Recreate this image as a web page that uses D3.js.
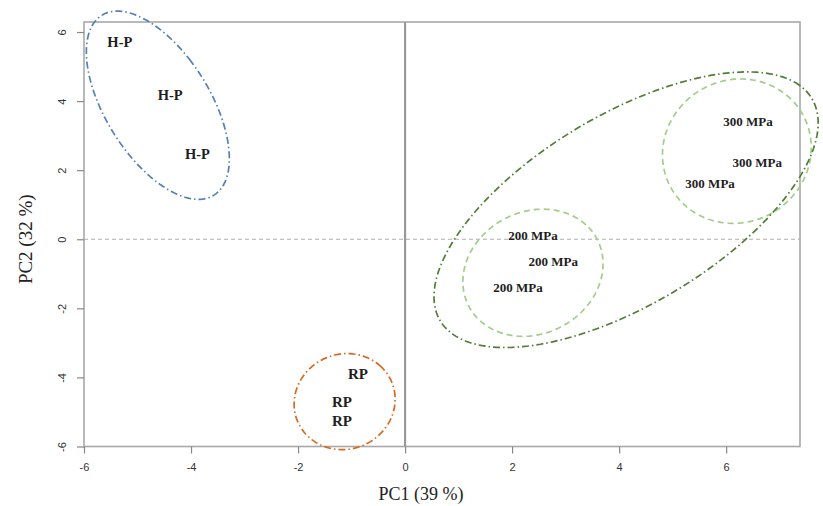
<!DOCTYPE html>
<html>
<head>
<meta charset="utf-8">
<script src="https://cdn.jsdelivr.net/npm/d3@7"></script>
<style>
  body { margin: 0; background: #fff; }
  svg { display: block; }
</style>
</head>
<body>
<svg id="chart"></svg>
<script>
// PCA scores (PC1, PC2)
const labels = ["H-P", "H-P", "H-P", "RP", "RP", "RP",
  "200 MPa", "200 MPa", "200 MPa", "300 MPa", "300 MPa", "300 MPa"];
const pc1 = [-5.33, -4.39, -3.88, -0.88, -1.18, -1.18, 2.39, 2.77, 2.11, 6.41, 6.58, 5.70];
const pc2 = [5.71, 4.17, 2.46, -3.91, -4.70, -5.25, 0.12, -0.64, -1.39, 3.42, 2.23, 1.62];
const labelSize = [14.5, 14.5, 14.5, 15, 15, 15, 13, 13, 13, 13, 13, 13];

// group ellipses: centre, half-width, half-height (data units), correlation
const ellipseNames = ["H-P", "RP", "200 MPa", "300 MPa", "HHP"];
const ellipseCx = [-4.62, -1.13, 2.39, 6.20, 4.13];
const ellipseCy = [3.88, -4.70, -0.97, 2.55, 0.855];
const ellipseRx = [1.336, 0.944, 1.31, 1.39, 3.59];
const ellipseRy = [2.725, 1.39, 1.84, 2.09, 3.99];
const ellipseRho = [-0.567, 0.05, 0.14, 0.05, 0.63];
const ellipseColor = ["#5580b5", "#d9691f", "#9fcf8a", "#9fcf8a", "#4f7f35"];
const ellipseDash = ["7,3,1.5,3", "7,3,1.5,3", "6,4", "6,4", "7,3,1.5,3"];

const xTicks = [-6, -4, -2, 0, 2, 4, 6];
const yTicks = [-6, -4, -2, 0, 2, 4, 6];

const width = 823, height = 506;
const margin = { top: 22, right: 23, bottom: 60, left: 84 };

const svg = d3.select("#chart")
  .attr("width", width)
  .attr("height", height);

const x = d3.scaleLinear()
  .domain([-6, 7.38])
  .range([margin.left, width - margin.right]);

const y = d3.scaleLinear()
  .domain([-6, 6.29])
  .range([height - margin.bottom + 0.5, margin.top]);

// plot frame
svg.append("rect")
  .attr("x", x(-6)).attr("y", y(6.29))
  .attr("width", x(7.38) - x(-6)).attr("height", y(-6) - y(6.29))
  .attr("fill", "none")
  .attr("stroke", "#a8a8a8")
  .attr("stroke-width", 1.6);

// reference lines
svg.append("line")
  .attr("x1", x(-6)).attr("x2", x(7.38))
  .attr("y1", y(0)).attr("y2", y(0))
  .attr("stroke", "#b0b0b0")
  .attr("stroke-width", 1.2)
  .attr("stroke-dasharray", "4,3");

svg.append("line")
  .attr("x1", x(0)).attr("x2", x(0))
  .attr("y1", y(6.29)).attr("y2", y(-6))
  .attr("stroke", "#999")
  .attr("stroke-width", 2.2);

// axes
const xAxis = svg.append("g")
  .attr("transform", `translate(0,${y(-6)})`)
  .call(d3.axisBottom(x).tickValues(xTicks).tickSize(7).tickPadding(10).tickFormat(d => String(d)));

const yAxis = svg.append("g")
  .attr("transform", `translate(${x(-6)},0)`)
  .call(d3.axisLeft(y).tickValues(yTicks).tickSize(7).tickPadding(0).tickFormat(d => String(d)));

[xAxis, yAxis].forEach(g => {
  g.select(".domain").remove();
  g.selectAll(".tick line").attr("stroke", "#888").attr("stroke-width", 1.2);
  g.selectAll(".tick text")
    .attr("fill", "#333")
    .style("font-family", "Liberation Sans, Arial, sans-serif")
    .style("font-size", "11px");
});

// R style: y tick labels parallel to the axis
yAxis.selectAll(".tick text")
  .attr("x", -21)
  .attr("dy", 0)
  .attr("text-anchor", "middle")
  .attr("dominant-baseline", "middle")
  .attr("transform", "rotate(-90,-21,0)");

// axis titles
svg.append("text")
  .attr("x", x(0) + 16)
  .attr("y", 500)
  .attr("text-anchor", "middle")
  .style("font-family", "Liberation Serif, Times New Roman, serif")
  .style("font-size", "18px")
  .attr("fill", "#222")
  .text("PC1 (39 %)");

svg.append("text")
  .attr("transform", `translate(32,${y(0)}) rotate(-90)`)
  .attr("text-anchor", "middle")
  .style("font-family", "Liberation Serif, Times New Roman, serif")
  .style("font-size", "19px")
  .attr("fill", "#222")
  .text("PC2 (32 %)");

// ellipses
const line = d3.line().curve(d3.curveLinearClosed);
ellipseNames.forEach((name, i) => {
  const d = Math.acos(ellipseRho[i]);
  const pts = d3.range(0, 2 * Math.PI, Math.PI / 90).map(a => [
    x(ellipseCx[i] + ellipseRx[i] * Math.cos(a + d / 2)),
    y(ellipseCy[i] + ellipseRy[i] * Math.cos(a - d / 2))
  ]);
  svg.append("path")
    .attr("class", "ellipse")
    .attr("d", line(pts))
    .attr("fill", "none")
    .attr("stroke", ellipseColor[i])
    .attr("stroke-width", 1.7)
    .attr("stroke-dasharray", ellipseDash[i]);
});

// sample labels
svg.selectAll(".lbl")
  .data(labels)
  .enter()
  .append("text")
  .attr("class", "lbl")
  .attr("x", (d, i) => x(pc1[i]))
  .attr("y", (d, i) => y(pc2[i]))
  .attr("text-anchor", "middle")
  .attr("dominant-baseline", "central")
  .style("font-family", "Liberation Serif, Times New Roman, serif")
  .style("font-weight", "bold")
  .style("font-size", (d, i) => labelSize[i] + "px")
  .attr("fill", "#1e1e1e")
  .text(d => d);
</script>
</body>
</html>
